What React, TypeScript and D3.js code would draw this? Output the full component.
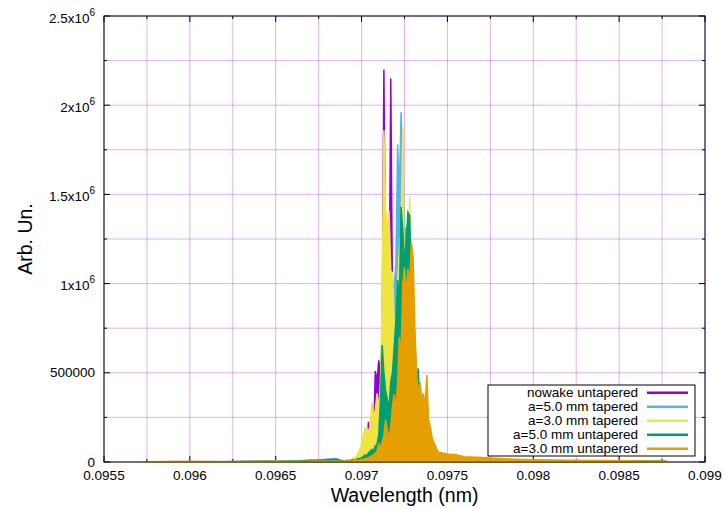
import React from "react";
import * as d3 from "d3";

// ---------- data ----------
const seriesNames = [
  "nowake untapered",
  "a=5.0 mm tapered",
  "a=3.0 mm tapered",
  "a=5.0 mm untapered",
  "a=3.0 mm untapered",
];
const seriesColors = ["#9400d3", "#56b4e9", "#f0e442", "#009e73", "#e69f00"];

// wavelengths (nm) of the sparse tails
const leftTailWl = [0.09575, 0.096, 0.0962, 0.0964, 0.0965, 0.0966, 0.0967, 0.09675, 0.0968, 0.09685];
const rightTailWl = [0.0975, 0.09755, 0.0976, 0.0977, 0.0978, 0.0979, 0.098, 0.0982, 0.0984, 0.0986, 0.09878];
// peak region sampled every 0.00001 nm from 0.0969
const peakStart = 0.0969;
const peakStep = 0.00001;

// intensities in thousands (arb. un. / 1000)
const nowakeLeftK = [2, 3, 2, 4, 5, 4, 8, 10, 14, 8];
const nowakePeakK = [
  5, 8, 4, 10, 6, 12, 15, 8, 20, 12,
  30, 18, 45, 60, 225, 80, 120, 150, 510, 450,
  570, 500, 700, 2200, 1000, 900, 800, 2150, 900, 1000,
  950, 700, 800, 650, 700, 600, 500, 550, 400, 450,
  350, 300, 250, 220, 180, 150, 120, 100, 80, 70,
  60, 50, 40, 35, 30, 25,
];
const nowakeRightK = [25, 20, 15, 12, 10, 8, 8, 6, 5, 4, 3];

const a5TapLeftK = [2, 2, 3, 3, 4, 6, 10, 8, 15, 20];
const a5TapPeakK = [
  4, 6, 10, 5, 12, 8, 15, 10, 20, 14,
  20, 25, 40, 35, 60, 50, 90, 70, 120, 150,
  200, 250, 400, 900, 1400, 1000, 800, 700, 900, 1000,
  1100, 1780, 1500, 1960, 1700, 1300, 1310, 1200, 1100, 800,
  700, 600, 450, 350, 300, 250, 200, 180, 150, 120,
  100, 80, 60, 45, 35, 25,
];
const a5TapRightK = [20, 18, 15, 12, 10, 8, 10, 6, 5, 4, 3];

const a3TapLeftK = [2, 3, 2, 3, 4, 5, 6, 8, 10, 12];
const a3TapPeakK = [
  5, 10, 8, 15, 10, 20, 25, 30, 50, 70,
  100, 150, 190, 190, 170, 200, 335, 250, 290, 385,
  300, 450, 900, 1860, 1410, 1300, 1410, 1070, 1060, 800,
  700, 1000, 1200, 1300, 1880, 1000, 1100, 900, 1490, 900,
  700, 600, 400, 300, 250, 200, 180, 150, 120, 100,
  80, 60, 50, 40, 30, 25,
];
const a3TapRightK = [20, 15, 12, 10, 8, 6, 8, 5, 4, 3, 2];

const a5UntLeftK = [1, 2, 2, 3, 3, 5, 8, 10, 12, 15];
const a5UntPeakK = [
  3, 5, 8, 6, 10, 12, 8, 15, 20, 18,
  25, 30, 40, 35, 50, 60, 70, 65, 90, 100,
  150, 350, 655, 500, 400, 350, 300, 450, 500, 643,
  800, 1020, 900, 1430, 1300, 1100, 1250, 1400, 1380, 1000,
  800, 700, 450, 525, 300, 350, 250, 300, 200, 220,
  160, 130, 100, 80, 60, 45,
];
const a5UntRightK = [35, 28, 20, 15, 12, 10, 8, 6, 5, 4, 3];

const a3UntLeftK = [1, 2, 2, 2, 3, 3, 4, 5, 4, 6];
const a3UntPeakK = [
  3, 4, 5, 6, 5, 8, 7, 10, 9, 12,
  15, 12, 20, 18, 25, 30, 35, 40, 50, 60,
  100, 80, 110, 150, 235, 180, 125, 200, 310, 380,
  300, 450, 700, 600, 1000, 1090, 950, 1080, 1000, 1230,
  1150, 760, 500, 380, 450, 364, 380, 330, 487, 235,
  200, 140, 110, 90, 67, 55,
];
const a3UntRightK = [45, 40, 30, 25, 20, 15, 12, 10, 8, 6, 4];

const seriesLeft = [nowakeLeftK, a5TapLeftK, a3TapLeftK, a5UntLeftK, a3UntLeftK];
const seriesPeak = [nowakePeakK, a5TapPeakK, a3TapPeakK, a5UntPeakK, a3UntPeakK];
const seriesRight = [nowakeRightK, a5TapRightK, a3TapRightK, a5UntRightK, a3UntRightK];

const xTickValues = [0.0955, 0.096, 0.0965, 0.097, 0.0975, 0.098, 0.0985, 0.099];
const xTickLabels = ["0.0955", "0.096", "0.0965", "0.097", "0.0975", "0.098", "0.0985", "0.099"];
const yTickValues = [0, 500000, 1000000, 1500000, 2000000, 2500000];
const yTickBase = ["0", "500000", "1x10", "1.5x10", "2x10", "2.5x10"];
const yTickSup = ["", "", "6", "6", "6", "6"];

// ---------- layout ----------
const W = 723;
const H = 509;
const L = 104;
const R = 705;
const T = 16;
const B = 462;
const FONT = "'Liberation Sans', Arial, sans-serif";

export default function App() {
  const x = d3.scaleLinear().domain([0.0955, 0.099]).range([L, R]);
  const y = d3.scaleLinear().domain([0, 2500000]).range([B, T]);

  const series = seriesNames.map((name, s) => {
    const pts: [number, number][] = [];
    leftTailWl.forEach((w, i) => pts.push([w, seriesLeft[s][i] * 1000]));
    seriesPeak[s].forEach((v, i) => pts.push([peakStart + i * peakStep, v * 1000]));
    rightTailWl.forEach((w, i) => pts.push([w, seriesRight[s][i] * 1000]));
    return { name, color: seriesColors[s], pts };
  });

  const line = d3
    .line<[number, number]>()
    .x((d) => x(d[0]))
    .y((d) => y(d[1]));
  const area = d3
    .area<[number, number]>()
    .x((d) => x(d[0]))
    .y0(y(0))
    .y1((d) => y(d[1]));

  const xMinor = xTickValues.slice(0, -1).map((v, i) => (v + xTickValues[i + 1]) / 2);
  const yMinor = yTickValues.slice(0, -1).map((v, i) => (v + yTickValues[i + 1]) / 2);
  const gridColor = "rgba(148,0,211,0.3)";

  const legendX0 = 488;
  const legendY0 = 385;
  const legendRowY = (i: number) => 392.7 + i * 14;
  const firstWl = leftTailWl[0];
  const lastWl = rightTailWl[rightTailWl.length - 1];

  return (
    <svg
      width={W}
      height={H}
      style={{ position: "absolute", left: 0, top: 0, background: "#fff" }}
      fontFamily={FONT}
    >
      <rect x={0} y={0} width={W} height={H} fill="#fff" />
      <defs>
        <clipPath id="plot">
          <rect x={L} y={T} width={R - L} height={B - T + 2} />
        </clipPath>
      </defs>
      {/* grid */}
      {[...xTickValues, ...xMinor].map((v, i) => (
        <line key={"gx" + i} x1={x(v)} x2={x(v)} y1={T} y2={B} stroke={gridColor} strokeWidth={1} />
      ))}
      {[...yTickValues, ...yMinor].map((v, i) => (
        <line key={"gy" + i} x1={L} x2={R} y1={y(v)} y2={y(v)} stroke={gridColor} strokeWidth={1} />
      ))}
      {/* ticks */}
      {xTickValues.map((v, i) => (
        <g key={"tx" + i} stroke="#000" strokeWidth={1}>
          <line x1={x(v)} x2={x(v)} y1={B} y2={B - 6} />
          <line x1={x(v)} x2={x(v)} y1={T} y2={T + 6} />
        </g>
      ))}
      {xMinor.map((v, i) => (
        <g key={"mx" + i} stroke="#000" strokeWidth={1}>
          <line x1={x(v)} x2={x(v)} y1={B} y2={B - 3} />
          <line x1={x(v)} x2={x(v)} y1={T} y2={T + 3} />
        </g>
      ))}
      {yTickValues.map((v, i) => (
        <g key={"ty" + i} stroke="#000" strokeWidth={1}>
          <line x1={L} x2={L + 6} y1={y(v)} y2={y(v)} />
          <line x1={R} x2={R - 6} y1={y(v)} y2={y(v)} />
        </g>
      ))}
      {yMinor.map((v, i) => (
        <g key={"my" + i} stroke="#000" strokeWidth={1}>
          <line x1={L} x2={L + 3} y1={y(v)} y2={y(v)} />
          <line x1={R} x2={R - 3} y1={y(v)} y2={y(v)} />
        </g>
      ))}
      {/* frame */}
      <rect x={L} y={T} width={R - L} height={B - T} fill="none" stroke="#000" strokeWidth={1} />
      {/* data */}
      <g clipPath="url(#plot)">
        {series.map((s) => (
          <g key={s.name}>
            <path d={area(s.pts) || ""} fill={s.color} stroke="none" />
            <path
              d={line(s.pts) || ""}
              fill="none"
              stroke={s.color}
              strokeWidth={1.5}
              strokeLinejoin="miter"
            />
          </g>
        ))}
        {/* dark overlapping baseline of the summed traces at zero */}
        <line x1={x(firstWl)} x2={x(lastWl)} y1={B} y2={B} stroke="#5a4a10" strokeWidth={1.5} opacity={0.75} />
      </g>
      {/* x labels */}
      {xTickValues.map((v, i) => (
        <text key={"lx" + i} x={x(v)} y={480} textAnchor="middle" fontSize={13.5} fill="#000">
          {xTickLabels[i]}
        </text>
      ))}
      {/* y labels */}
      {yTickValues.map((v, i) => (
        <text
          key={"ly" + i}
          x={95}
          y={y(v) + (yTickSup[i] ? 6.5 : 4.5)}
          textAnchor="end"
          fontSize={13.5}
          fill="#000"
        >
          {yTickBase[i]}
          {yTickSup[i] ? (
            <tspan fontSize={10} dy={-7}>
              {yTickSup[i]}
            </tspan>
          ) : null}
        </text>
      ))}
      {/* axis titles */}
      <text x={(L + R) / 2} y={502} textAnchor="middle" fontSize={19.5} fill="#000">
        Wavelength (nm)
      </text>
      <text
        transform={`translate(32, ${(T + B) / 2}) rotate(-90)`}
        textAnchor="middle"
        fontSize={19.5}
        fill="#000"
      >
        Arb. Un.
      </text>
      {/* legend */}
      <rect x={legendX0} y={legendY0} width={695 - legendX0} height={456 - legendY0} fill="#fff" stroke="#000" strokeWidth={1} />
      {series.map((s, i) => (
        <g key={"lg" + i}>
          <text x={638} y={legendRowY(i) + 4.5} textAnchor="end" fontSize={13.5} fill="#000">
            {s.name}
          </text>
          <line x1={647} x2={688} y1={legendRowY(i)} y2={legendRowY(i)} stroke={s.color} strokeWidth={2.5} />
        </g>
      ))}
    </svg>
  );
}
